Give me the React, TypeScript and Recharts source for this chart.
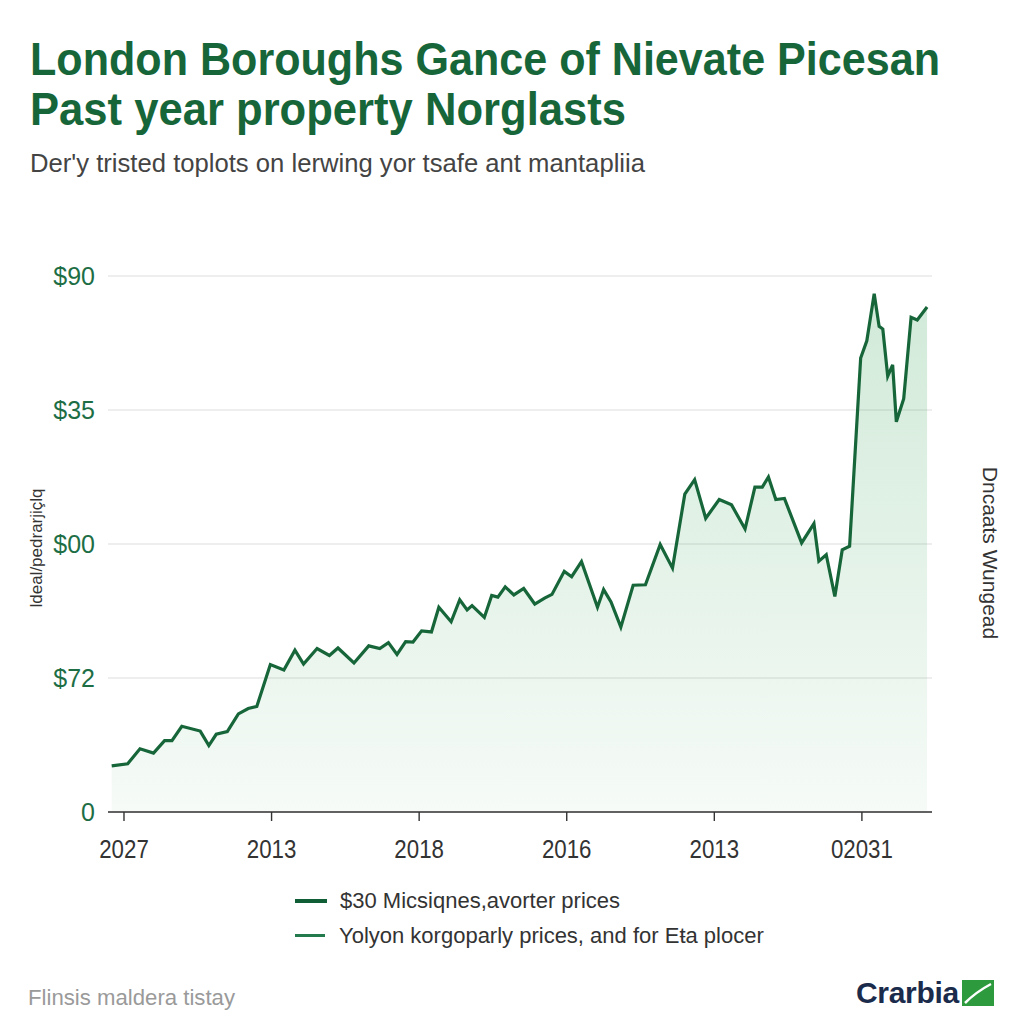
import React from "react";
import { ComposedChart, Area, Line, XAxis, YAxis, CartesianGrid } from "recharts";

// x position in months from the first tick, y as share of the plot height (0-100)
const months = [
  -1.0, 0.3, 1.3, 2.4, 3.3, 3.9, 4.7, 6.2, 6.9, 7.5, 8.4, 9.3, 10.1, 10.8, 11.9, 13.0, 13.9, 14.6, 15.7, 16.7,
  17.4, 18.7, 19.9, 20.8, 21.5, 22.2, 22.9, 23.5, 24.2, 25.0, 25.6, 26.6, 27.3, 27.9, 28.3, 29.3, 29.9, 30.4,
  31.0, 31.7, 32.5, 33.4, 34.2, 34.8, 35.8, 36.4, 37.2, 38.5, 39.0, 39.6, 40.4, 41.4, 42.4, 43.6, 44.6, 45.6,
  46.4, 47.3, 48.4, 49.4, 50.5, 51.3, 51.9, 52.4, 53.0, 53.7, 55.1, 56.1, 56.5, 57.1, 57.8, 58.4, 59.0, 59.9,
  60.4, 61.0, 61.4, 61.7, 62.1, 62.5, 62.8, 63.4, 64.0, 64.5, 65.3,
];
const prices = [
  8.6, 9.0, 11.8, 11.0, 13.3, 13.3, 16.0, 15.1, 12.4, 14.5, 15.0, 18.3, 19.3, 19.7, 27.5, 26.5, 30.2, 27.6, 30.5, 29.2,
  30.6, 27.8, 31.0, 30.5, 31.6, 29.4, 31.8, 31.7, 33.8, 33.6, 38.2, 35.5, 39.6, 37.7, 38.5, 36.3, 40.4, 40.1,
  42.0, 40.5, 41.7, 38.8, 39.9, 40.6, 44.9, 43.9, 46.7, 38.2, 41.5, 39.2, 34.5, 42.3, 42.4, 49.9, 45.5, 59.3,
  62.0, 54.8, 58.3, 57.3, 52.8, 60.6, 60.6, 62.5, 58.3, 58.5, 50.2, 53.8, 46.8, 48.0, 40.2, 48.9, 49.6, 84.7,
  87.9, 96.7, 90.6, 90.1, 81.3, 83.4, 72.8, 77.1, 92.3, 91.8, 94.2,
];

const xTicks = [0, 12, 24, 36, 48, 60];
const xLabels = ["2027", "2013", "2018", "2016", "2013", "02031"];
const yTicks = [0, 25, 50, 75, 100];
const leftLabels = ["0", "$72", "$00", "$35", "$90"];
const rightLabels = ["0", "3", "$", "$8", "$58"];

const seriesNames = ["$30 Micsiqnes,avorter prices", "Yolyon korgoparly prices, and for E\u0167a plocer"];

const data = months.map((t, i) => ({ t, price: prices[i], fill: prices[i] }));

const GREEN = "#16663a";
const TICK_GREEN = "#1d6e45";
const SANS = '"Liberation Sans", Arial, sans-serif';

function XTick({ x, y, payload }: any) {
  const label = xLabels[xTicks.indexOf(payload.value)] ?? "";
  return (
    <text
      x={x}
      y={y + 35}
      textAnchor="middle"
      fill="#333"
      fontSize={25}
      fontFamily={SANS}
      textLength={label.length * 12.4}
      lengthAdjust="spacingAndGlyphs"
    >
      {label}
    </text>
  );
}

export default function App() {
  return (
    <div style={{ position: "absolute", top: 0, left: 0, width: 1024, height: 1024, background: "#fff", overflow: "hidden", fontFamily: SANS }}>
      <svg width={1024} height={200} style={{ position: "absolute", left: 0, top: 0 }}>
        <g fontFamily={SANS}>
          <text x={30} y={75} fontSize={46} fontWeight={700} fill={GREEN} textLength={910} lengthAdjust="spacingAndGlyphs">
            London Boroughs Gance of Nievate Picesan
          </text>
          <text x={30} y={125} fontSize={46} fontWeight={700} fill={GREEN} textLength={596} lengthAdjust="spacingAndGlyphs">
            Past year property Norglasts
          </text>
          <text x={30} y={172} fontSize={26} fill="#444" textLength={615} lengthAdjust="spacingAndGlyphs">
            Der'y tristed toplots on lerwing yor tsafe ant mantapliia
          </text>
        </g>
      </svg>

      <div style={{ position: "absolute", left: 0, top: 0 }}>
        <ComposedChart width={1024} height={1024} data={data} margin={{ top: 276, right: 0, bottom: 170, left: 0 }}>
          <defs>
            <linearGradient id="fillGrad" x1="0" y1="0" x2="0" y2="1">
              <stop offset="0%" stopColor="#3fa65e" stopOpacity={0.4} />
              <stop offset="100%" stopColor="#3fa65e" stopOpacity={0.08} />
            </linearGradient>
          </defs>
          <CartesianGrid vertical={false} stroke="#dedede" strokeWidth={1.2} yAxisId="left" />
          <XAxis
            dataKey="t"
            type="number"
            domain={[-1.3, 65.7]}
            ticks={xTicks}
            height={42}
            tickSize={9}
            axisLine={{ stroke: "#333", strokeWidth: 1.6 }}
            tickLine={{ stroke: "#333", strokeWidth: 1.4 }}
            tick={<XTick />}
          />
          <YAxis
            yAxisId="left"
            domain={[0, 100]}
            ticks={yTicks}
            tickFormatter={(v) => leftLabels[yTicks.indexOf(v)] ?? ""}
            width={108}
            axisLine={false}
            tickLine={false}
            tickMargin={7}
            tick={{ fill: TICK_GREEN, fontSize: 25, fontFamily: SANS }}
          />
          <YAxis
            yAxisId="right"
            orientation="right"
            domain={[0, 100]}
            ticks={yTicks}
            tickFormatter={(v) => rightLabels[yTicks.indexOf(v)] ?? ""}
            width={92}
            axisLine={false}
            tickLine={false}
            tickMargin={10}
            tick={{ fill: TICK_GREEN, fontSize: 25, fontFamily: SANS, textAnchor: "start" }}
          />
          <Area
            yAxisId="left"
            dataKey="fill"
            name={seriesNames[1]}
            type="linear"
            stroke="none"
            fill="url(#fillGrad)"
            isAnimationActive={false}
          />
          <Line
            yAxisId="left"
            dataKey="price"
            name={seriesNames[0]}
            type="linear"
            stroke={GREEN}
            strokeWidth={3.2}
            strokeLinejoin="miter"
            dot={false}
            isAnimationActive={false}
          />
        </ComposedChart>
      </div>

      <div style={{ position: "absolute", left: 37, top: 548, transform: "translate(-50%, -50%) rotate(-90deg)", fontSize: 17, color: "#333", whiteSpace: "nowrap" }}>
        ldeal/pedrarjiçlq
      </div>
      <div style={{ position: "absolute", left: 990, top: 553, transform: "translate(-50%, -50%) rotate(90deg)", fontSize: 21, color: "#333", whiteSpace: "nowrap" }}>
        Dncaats Wungead
      </div>

      <div style={{ position: "absolute", left: 295, top: 883, fontSize: 22, color: "#333", lineHeight: "35px" }}>
        <div style={{ display: "flex", alignItems: "center" }}>
          <span style={{ display: "inline-block", width: 32, height: 4, background: "#0f5e35", marginRight: 13 }} />
          {seriesNames[0]}
        </div>
        <div style={{ display: "flex", alignItems: "center" }}>
          <span style={{ display: "inline-block", width: 30, height: 3, background: "#237a4c", marginRight: 14 }} />
          {seriesNames[1]}
        </div>
      </div>

      <svg width={300} height={40} style={{ position: "absolute", left: 0, top: 980 }}>
        <text x={28} y={25} fontFamily={SANS} fontSize={22} fill="#9a9a9a" textLength={207} lengthAdjust="spacingAndGlyphs">
          Flinsis maldera tistay
        </text>
      </svg>
      <div style={{ position: "absolute", left: 856, top: 976, display: "flex", alignItems: "center" }}>
        <span style={{ fontWeight: 700, fontSize: 30, color: "#1b2b4b", letterSpacing: -0.3 }}>Crarbia</span>
        <svg width="32" height="26" style={{ marginLeft: 3 }}>
          <rect x="0" y="0" width="32" height="26" fill="#2e9a3e" />
          <path d="M3 23 Q 14 12 29 4" stroke="#fff" strokeWidth="2.5" fill="none" />
        </svg>
      </div>
    </div>
  );
}
